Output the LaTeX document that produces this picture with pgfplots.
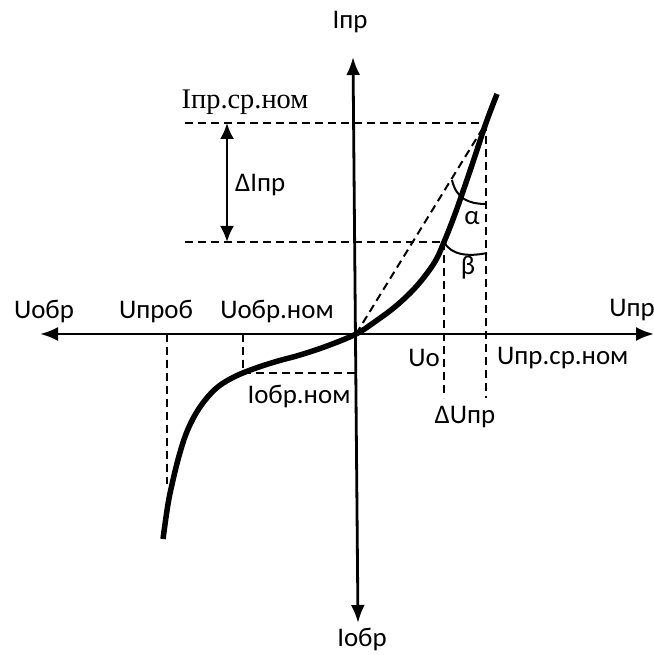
\documentclass[border=0pt]{standalone}
\usepackage{pgfplots}
\pgfplotsset{compat=1.18}
\usetikzlibrary{arrows.meta}
\usepackage{fontspec}
\setmainfont{Carlito}
\newfontfamily\serifcyr{Liberation Serif}

\begin{document}
\begin{tikzpicture}[
  lbl/.style={font=\fontsize{27}{31}\selectfont, inner sep=0pt},
  guide/.style={black, line width=2bp, dash pattern=on 8bp off 5bp},
  ax arrow/.style={black, line width=2.8bp, {Latex[length=18bp,width=14bp]}-{Latex[length=18bp,width=14bp]}},
]
\begin{axis}[name=ax, hide axis, scale only axis, width=654bp, height=655bp,
  xmin=-356, xmax=298, ymin=-321, ymax=334, clip=false]

% coordinate axes U and I
\draw[ax arrow] (-316,0) -- (298,0);
\draw[ax arrow] (2,-289) -- (-3,277);

% chord from the origin to the nominal working point
\addplot[guide] coordinates {(0,0) (130,211)};

% projections of the working points
\addplot[guide] coordinates {(-171,211) (130,211)};
\addplot[guide] coordinates {(-171,92) (88,92)};
\addplot[guide] coordinates {(130,211) (130,-64)};
\addplot[guide] coordinates {(88,92) (88,-64)};
\addplot[guide] coordinates {(-189,0) (-189,-150)};
\addplot[guide] coordinates {(-113,0) (-113,-39)};
\addplot[guide] coordinates {(-113,-39) (0,-39)};

% current-voltage characteristic of the diode
\addplot[black, line width=5.5bp, smooth, tension=0.6] coordinates {
  (-193,-205) (-188,-170) (-183,-146) (-177,-122) (-170,-100) (-161,-81)
  (-150,-65) (-137,-52) (-120,-42) (-100,-34) (-78,-27) (-56,-21)
  (-29,-12) (0,0)
  (20,13) (40,28) (58,45) (72,62) (81,76) (88,92) (96,112) (104,134)
  (117,172) (130,211) (141,240)
};

% angles alpha and beta
\draw[black, line width=2bp] (96,154) .. controls (100,136) and (112,130) .. (130,130);
\draw[black, line width=2bp] (88,92) .. controls (95,79) and (112,77) .. (131,81);

% current increment
\draw[black, line width=2.4bp, {Latex[length=16bp,width=14bp]}-{Latex[length=16bp,width=14bp]}] (-129,211) -- (-129,92);

% labels
\node[lbl] at (-6,312) {Iпр};
\node[lbl] at (6,-306) {Iобр};
\node[lbl] at (-312,22) {Uобр};
\node[lbl] at (-200,22) {Uпроб};
\node[lbl] at (-79,22) {Uобр.ном};
\node[lbl, anchor=east] at (299,24) {Uпр};
\node[lbl] at (68,-24) {Uо};
\node[lbl, anchor=west] at (141,-24) {Uпр.ср.ном};
\node[lbl] at (109,-83) {ΔUпр};
\node[lbl] at (-57,-63) {Iобр.ном};
\node[lbl, font=\serifcyr\fontsize{28.5}{32}\selectfont] at (-111,232) {Iпр.ср.ном};
\node[lbl, anchor=west] at (-121,149) {ΔIпр};
\node[lbl] at (116,116) {α};
\node[lbl] at (112,66) {β};
\end{axis}
\pgfresetboundingbox
\path[use as bounding box] (ax.south west) rectangle (ax.north east);
\end{tikzpicture}
\end{document}
